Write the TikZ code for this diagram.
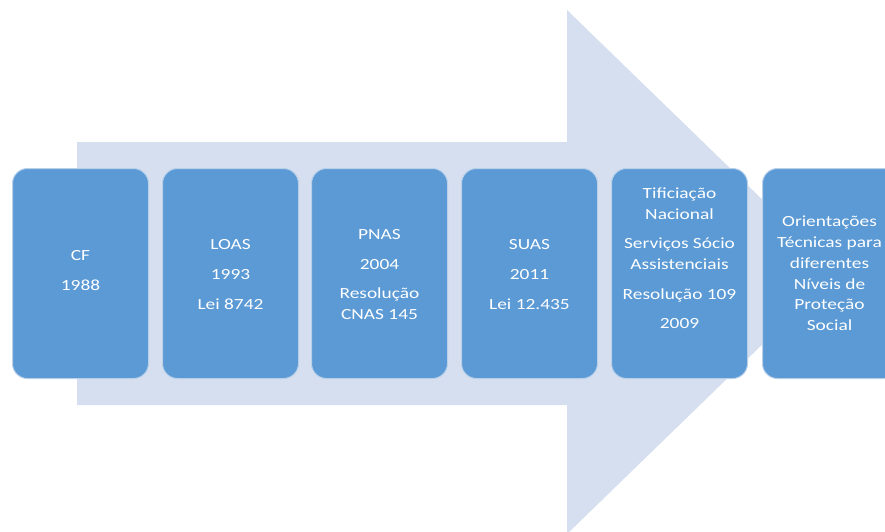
\documentclass[tikz,border=0pt]{standalone}
\usepackage{fontspec}
\newfontfamily\boxfont[FakeStretch=1.25]{Carlito}
\definecolor{arrowfill}{HTML}{D5DFEF}
\definecolor{boxfill}{HTML}{5B9AD5}
\definecolor{boxline}{HTML}{B8D0EA}
\begin{document}
\begin{tikzpicture}[x=1pt,y=-1pt,
  stagebox/.style={draw=boxline,line width=1pt,fill=boxfill,rounded corners=15pt,
    minimum width=136pt,minimum height=210pt,inner sep=0pt,anchor=north west},
  stagetext/.style={text=white,align=center,inner sep=0pt,
    font=\boxfont\fontsize{15.5}{20.8}\selectfont}]
\useasboundingbox (0,0) rectangle (885,531);
\begin{scope}
\clip (0,0) rectangle (885,531);
\fill[arrowfill] (77,142) -- (567,142) -- (567,10) -- (837,272) -- (567,534) -- (567,405) -- (77,405) -- cycle;
\node[stagebox] (b1) at (12,168) {};
\node[stagebox] (b2) at (162,168) {};
\node[stagebox] (b3) at (311,168) {};
\node[stagebox] (b4) at (461,168) {};
\node[stagebox] (b5) at (611,168) {};
\node[stagebox] (b6) at (762,168) {};
\end{scope}
\node[stagetext] (t1) at ([yshift=3pt]b1.center) {CF\\[9pt]1988};
\node[stagetext] (t2) at ([yshift=-1pt]b2.center) {LOAS\\[9pt]1993\\[9pt]Lei 8742};
\node[stagetext] (t3) at ([yshift=-1pt]b3.center) {PNAS\\[9pt]2004\\[9pt]Resolução\\CNAS 145};
\node[stagetext] (t4) at ([yshift=-1pt]b4.center) {SUAS\\[9pt]2011\\[9pt]Lei 12.435};
\node[stagetext] (t5) at ([yshift=15pt]b5.center) {Tificiação\\Nacional\\[8pt]Serviços Sócio\\Assistenciais\\[9pt]Resolução 109\\[9pt]2009};
\node[stagetext] (t6) at ([xshift=-1pt,yshift=0pt]b6.center) {Orientações\\Técnicas para\\diferentes\\Níveis de\\Proteção\\Social};
\end{tikzpicture}
\end{document}
